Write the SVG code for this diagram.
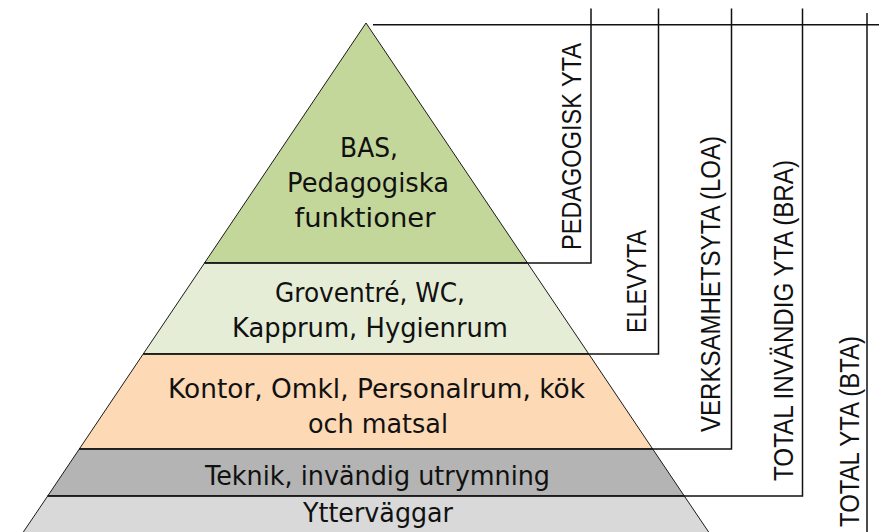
<svg xmlns="http://www.w3.org/2000/svg" width="879" height="532" viewBox="0 0 879 532">
  <style>
    .band { stroke: #1a1a1a; stroke-width: 1; stroke-linejoin: miter; }
    .lbl { font-family: "DejaVu Sans", "Liberation Sans", sans-serif; font-size: 26px; fill: #111; text-anchor: middle; }
    .vl { font-family: "Liberation Sans", Arial, sans-serif; font-size: 27px; fill: #111; }
    .br { fill: none; stroke: #111; stroke-width: 1.5; }
  </style>
  <rect width="879" height="532" fill="#ffffff"/>

  <g id="band-bas">
    <polygon class="band" fill="#c4d79b" points="366,23 527.5,263 204.5,263"/>
    <text class="lbl" x="369" y="157" textLength="58" lengthAdjust="spacingAndGlyphs">BAS,</text>
    <text class="lbl" x="368" y="192" textLength="162" lengthAdjust="spacingAndGlyphs">Pedagogiska</text>
    <text class="lbl" x="365" y="227" textLength="141" lengthAdjust="spacingAndGlyphs">funktioner</text>
  </g>

  <g id="band-elev">
    <polygon class="band" fill="#e5edd6" points="204.5,263 527.5,263 588.8,354 143.2,354"/>
    <text class="lbl" x="370" y="302" textLength="190" lengthAdjust="spacingAndGlyphs">Groventré, WC,</text>
    <text class="lbl" x="370" y="337" textLength="276" lengthAdjust="spacingAndGlyphs">Kapprum, Hygienrum</text>
  </g>

  <g id="band-verksamhet">
    <polygon class="band" fill="#fdd9b5" points="143.2,354 588.8,354 652.7,449 79.3,449"/>
    <text class="lbl" x="376.5" y="398" textLength="417" lengthAdjust="spacingAndGlyphs">Kontor, Omkl, Personalrum, kök</text>
    <text class="lbl" x="378" y="433" textLength="140" lengthAdjust="spacingAndGlyphs">och matsal</text>
  </g>

  <g id="band-teknik">
    <polygon class="band" fill="#b3b4b3" points="79.3,449 652.7,449 684.3,496 47.7,496"/>
    <text class="lbl" x="377.5" y="485" textLength="345" lengthAdjust="spacingAndGlyphs">Teknik, invändig utrymning</text>
  </g>

  <g id="band-ytter">
    <polygon class="band" fill="#d9d9d9" points="47.7,496 684.3,496 710,534 22,534"/>
    <text class="lbl" x="378" y="522" textLength="150" lengthAdjust="spacingAndGlyphs">Ytterväggar</text>
  </g>

  <g id="connectors">
    <path class="br" d="M373,24.7 H879"/>
    <path class="br" d="M204.5,263 H591 V8.6"/>
    <path class="br" d="M143.2,354 H658.5 V8.6"/>
    <path class="br" d="M79.3,449 H731.5 V8.6"/>
    <path class="br" d="M47.7,496 H802.5 V8.6"/>
    <path class="br" d="M867,13 V532"/>
  </g>

  <g id="area-labels">
    <text class="vl" transform="translate(581,250) rotate(-90)" textLength="207" lengthAdjust="spacingAndGlyphs">PEDAGOGISK YTA</text>
    <text class="vl" transform="translate(646,333) rotate(-90)" textLength="103" lengthAdjust="spacingAndGlyphs">ELEVYTA</text>
    <text class="vl" transform="translate(720,432) rotate(-90)" textLength="296" lengthAdjust="spacingAndGlyphs">VERKSAMHETSYTA (LOA)</text>
    <text class="vl" transform="translate(793,481) rotate(-90)" textLength="321" lengthAdjust="spacingAndGlyphs">TOTAL INVÄNDIG YTA (BRA)</text>
    <text class="vl" transform="translate(859,527) rotate(-90)" textLength="191" lengthAdjust="spacingAndGlyphs">TOTAL YTA (BTA)</text>
  </g>
</svg>
